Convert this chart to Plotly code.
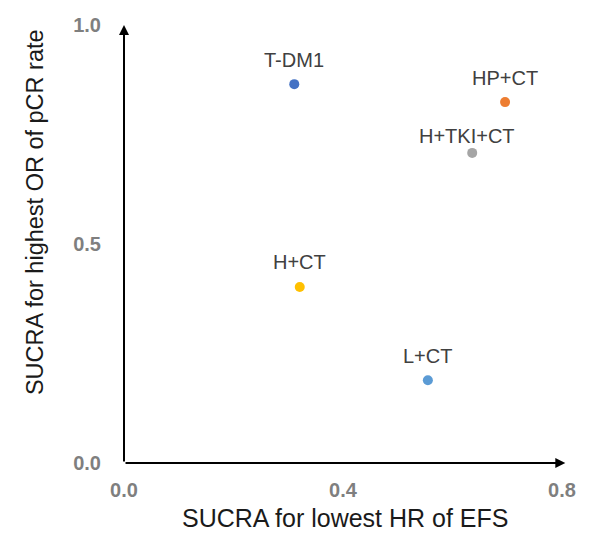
import plotly.graph_objects as go

# Data
treatments = ["T-DM1", "HP+CT", "H+TKI+CT", "H+CT", "L+CT"]
sucra_efs = [0.311, 0.696, 0.636, 0.321, 0.555]
sucra_pcr = [0.865, 0.824, 0.708, 0.402, 0.189]
colors = ["#4472C4", "#ED7D31", "#A5A5A5", "#FFC000", "#5B9BD5"]
x_ticks = [0.0, 0.4, 0.8]
y_ticks = [0.0, 0.5, 1.0]

# label offsets (pixels) – style only
label_shift = {"H+TKI+CT": (-5, 17)}

FONT = "Liberation Sans, Arial, sans-serif"

fig = go.Figure()
fig.add_trace(go.Scatter(
    x=sucra_efs, y=sucra_pcr, mode="markers",
    marker=dict(size=10, color=colors),
    cliponaxis=False, showlegend=False, hoverinfo="skip",
))

annotations = []
for name, xv, yv in zip(treatments, sucra_efs, sucra_pcr):
    xs, ys = label_shift.get(name, (0, 24.5))
    annotations.append(dict(
        x=xv, y=yv, xref="x", yref="y", text=name, showarrow=False,
        xshift=xs, yshift=ys, xanchor="center", yanchor="middle",
        font=dict(family=FONT, size=20, color="#404040"),
    ))

# axis arrows
annotations.append(dict(
    x=0.806, y=0, xref="x", yref="y", ax=0, ay=0, axref="x", ayref="y",
    text="", showarrow=True, arrowhead=2, arrowsize=1, arrowwidth=2,
    arrowcolor="black",
))
annotations.append(dict(
    x=0, y=1.0, xref="x", yref="y", ax=0, ay=0, axref="x", ayref="y",
    text="", showarrow=True, arrowhead=2, arrowsize=1, arrowwidth=2,
    arrowcolor="black",
))

# axis titles
annotations.append(dict(
    x=0.5046, y=-0.1256, xref="paper", yref="paper",
    text="SUCRA for lowest HR of EFS", showarrow=False,
    xanchor="center", yanchor="middle",
    font=dict(family=FONT, size=25, color="#1a1a1a"),
))
annotations.append(dict(
    x=-0.203, y=0.573, xref="paper", yref="paper",
    text="SUCRA for highest OR of pCR rate", showarrow=False,
    textangle=-90, xanchor="center", yanchor="middle",
    font=dict(family=FONT, size=23.5, color="#1a1a1a"),
))

fig.update_layout(
    width=596, height=527,
    margin=dict(l=116, r=42, t=17, b=72, autoexpand=False),
    plot_bgcolor="white", paper_bgcolor="white",
    annotations=annotations,
    xaxis=dict(
        range=[0, 0.8], tickvals=x_ticks,
        ticktext=[f"{v:.1f}" for v in x_ticks],
        showgrid=False, zeroline=False, showline=False, ticks="",
        ticklabelstandoff=13,
        tickfont=dict(family=FONT, size=20, color="#7f7f7f", weight="bold"),
    ),
    yaxis=dict(
        range=[0, 1.0], tickvals=y_ticks,
        ticktext=[f"{v:.1f}" for v in y_ticks],
        showgrid=False, zeroline=False, showline=False, ticks="",
        ticklabelstandoff=22,
        tickfont=dict(family=FONT, size=20, color="#7f7f7f", weight="bold"),
    ),
)

fig.write_html("out.html")
